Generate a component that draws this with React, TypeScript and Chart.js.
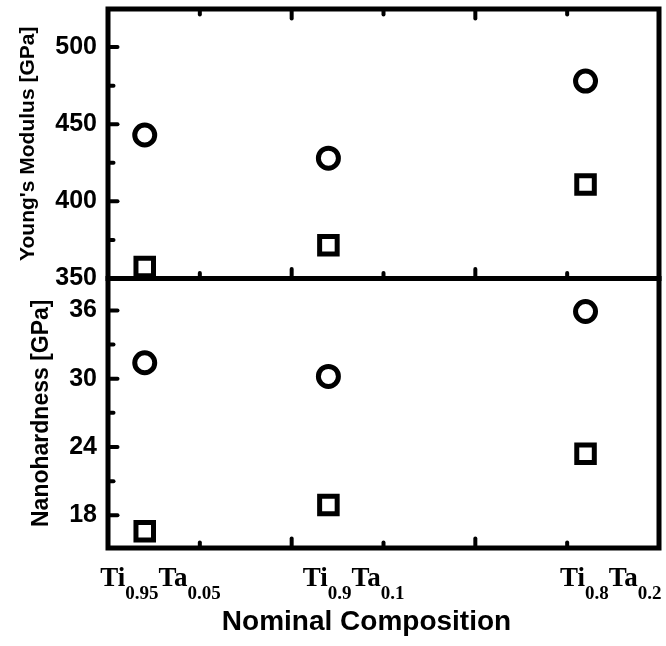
import React, { useEffect, useRef } from 'react';
import { Chart, registerables } from 'chart.js';

Chart.register(...registerables);

// ---- data ----
const compositionTi = ['0.95', '0.9', '0.8'];
const compositionTa = ['0.05', '0.1', '0.2'];
const compositionX = [0.4, 2.4, 5.2];

const modulusCircle = [443, 428, 478];
const modulusSquare = [357.5, 371.5, 411];
const hardnessCircle = [31.4, 30.2, 35.9];
const hardnessSquare = [16.6, 18.9, 23.4];

const modulusMajorTicks = [350, 400, 450, 500];
const modulusMinorTicks = [375, 425, 475];
const hardnessMajorTicks = [18, 24, 30, 36];
const hardnessMinorTicks = [21, 27, 33];
const xMajorTicks = [2, 4];
const xMinorTicks = [1, 3, 5];

const xRange = [0, 6];
const modulusRange = [350, 524.7];
const hardnessRange = [15.13, 38.8];

const modulusTitle = "Young's Modulus [GPa]";
const hardnessTitle = 'Nanohardness [GPa]';
const xTitle = 'Nominal Composition';

const SANS = '"Liberation Sans", Arial, Helvetica, sans-serif';
const SERIF = '"Liberation Serif", "Times New Roman", Times, serif';

const toPoints = (ys: number[]) => compositionX.map((x, i) => ({ x, y: ys[i] }));

const framePlugin = {
  id: 'framePlugin',
  beforeDatasetsDraw(chart: any) {
    const ctx = chart.ctx as CanvasRenderingContext2D;
    const xs = chart.scales.x;
    const yM = chart.scales.yMod;
    const yH = chart.scales.yHard;
    const left = chart.chartArea.left;
    const right = chart.chartArea.right;
    const topY = yM.getPixelForValue(yM.max);
    const divY = yM.getPixelForValue(yM.min);
    const botY = yH.getPixelForValue(yH.min);
    ctx.save();
    ctx.strokeStyle = '#000';
    ctx.lineWidth = 5;
    ctx.lineJoin = 'miter';
    ctx.strokeRect(left, topY, right - left, divY - topY);
    ctx.strokeRect(left, divY, right - left, botY - divY);
    ctx.lineWidth = 4;
    ctx.lineCap = 'round';
    const seg = (x1: number, y1: number, x2: number, y2: number) => {
      ctx.beginPath();
      ctx.moveTo(x1, y1);
      ctx.lineTo(x2, y2);
      ctx.stroke();
    };
    const MAJ = 9.5;
    const MIN = 5.5;
    const xt = (vals: number[], len: number) => {
      for (const v of vals) {
        const px = xs.getPixelForValue(v);
        seg(px, topY, px, topY + len);
        seg(px, divY, px, divY - len);
        seg(px, botY, px, botY - len);
      }
    };
    xt(xMajorTicks, MAJ);
    xt(xMinorTicks, MIN);
    const yt = (scale: any, vals: number[], len: number) => {
      for (const v of vals) {
        const py = scale.getPixelForValue(v);
        seg(left, py, left + len, py);
      }
    };
    yt(yM, modulusMajorTicks, MAJ);
    yt(yM, modulusMinorTicks, MIN);
    yt(yH, hardnessMajorTicks, MAJ);
    yt(yH, hardnessMinorTicks, MIN);
    ctx.restore();
  },
  afterDraw(chart: any) {
    const ctx = chart.ctx as CanvasRenderingContext2D;
    const xs = chart.scales.x;
    const area = chart.chartArea;
    ctx.save();
    ctx.fillStyle = '#000';
    ctx.textBaseline = 'alphabetic';
    ctx.textAlign = 'left';
    const mainFont = `bold 27px ${SERIF}`;
    const subFont = `bold 19px ${SERIF}`;
    const base = area.bottom + 38;
    const subBase = area.bottom + 51;
    compositionX.forEach((v, i) => {
      const parts: [string, string, number][] = [
        ['Ti', mainFont, base],
        [compositionTi[i], subFont, subBase],
        ['Ta', mainFont, base],
        [compositionTa[i], subFont, subBase],
      ];
      let total = 0;
      const widths = parts.map(([t, f]) => {
        ctx.font = f;
        const w = ctx.measureText(t).width;
        total += w;
        return w;
      });
      let cx = xs.getPixelForValue(v) + 76 - total;
      parts.forEach(([t, f, b], k) => {
        ctx.font = f;
        ctx.fillText(t, cx, b);
        cx += widths[k];
      });
    });
    ctx.font = `bold 28px ${SANS}`;
    ctx.textAlign = 'center';
    ctx.fillText(xTitle, (area.left + area.right) / 2 - 17, area.bottom + 82);
    ctx.restore();
  },
};

const yScaleBase = (titleText: string, titleSize: number, titlePad: number) => ({
  type: 'linear' as const,
  position: 'left' as const,
  stack: 'panels',
  stackWeight: 1,
  grid: { display: false, drawTicks: false },
  border: { display: false },
  ticks: {
    autoSkip: false,
    padding: 11,
    color: '#000',
    font: { family: SANS, size: 25, weight: 'bold' as const },
  },
  title: {
    display: true,
    text: titleText,
    color: '#000',
    font: { family: SANS, size: titleSize, weight: 'bold' as const },
    padding: { top: titlePad, bottom: 0 },
  },
  afterFit: (s: any) => {
    s.width = 108;
    s.paddingTop = 0;
    s.paddingBottom = 0;
  },
});

export default function App() {
  const ref = useRef<HTMLCanvasElement>(null);
  useEffect(() => {
    if (!ref.current) return;
    const circle = {
      pointStyle: 'circle' as const,
      pointRadius: 10,
      pointBorderWidth: 5,
      pointBorderColor: '#000',
      pointBackgroundColor: 'rgba(255,255,255,0)',
      showLine: false,
    };
    const square = {
      pointStyle: 'rect' as const,
      pointRadius: 12.4,
      pointBorderWidth: 5,
      pointBorderColor: '#000',
      pointBackgroundColor: 'rgba(255,255,255,0)',
      showLine: false,
    };
    const chart = new Chart(ref.current, {
      type: 'scatter',
      data: {
        datasets: [
          { label: 'Modulus (circle)', data: toPoints(modulusCircle), yAxisID: 'yMod', ...circle },
          { label: 'Modulus (square)', data: toPoints(modulusSquare), yAxisID: 'yMod', ...square },
          { label: 'Hardness (circle)', data: toPoints(hardnessCircle), yAxisID: 'yHard', ...circle },
          { label: 'Hardness (square)', data: toPoints(hardnessSquare), yAxisID: 'yHard', ...square },
        ],
      },
      options: {
        responsive: false,
        animation: false,
        devicePixelRatio: 1,
        layout: { autoPadding: false, padding: { left: 0, top: 9, right: 7, bottom: 0 } },
        plugins: { legend: { display: false }, tooltip: { enabled: false } },
        scales: {
          x: {
            type: 'linear',
            min: xRange[0],
            max: xRange[1],
            grid: { display: false, drawTicks: false },
            border: { display: false },
            ticks: { display: false },
            afterFit: (s: any) => {
              s.height = 98;
              s.paddingLeft = 0;
              s.paddingRight = 0;
            },
          },
          yHard: {
            ...yScaleBase(hardnessTitle, 23, 28),
            min: hardnessRange[0],
            max: hardnessRange[1],
            afterBuildTicks: (s: any) => {
              s.ticks = hardnessMajorTicks.map((value) => ({ value }));
            },
          },
          yMod: {
            ...yScaleBase(modulusTitle, 21, 15.4),
            min: modulusRange[0],
            max: modulusRange[1],
            afterBuildTicks: (s: any) => {
              s.ticks = modulusMajorTicks.map((value) => ({ value }));
            },
          },
        } as any,
      },
      plugins: [framePlugin],
    });
    return () => chart.destroy();
  }, []);
  return (
    <div style={{ position: 'absolute', left: 0, top: 0, width: 666, height: 646, background: '#fff' }}>
      <canvas ref={ref} width={666} height={646} style={{ display: 'block' }} />
    </div>
  );
}
